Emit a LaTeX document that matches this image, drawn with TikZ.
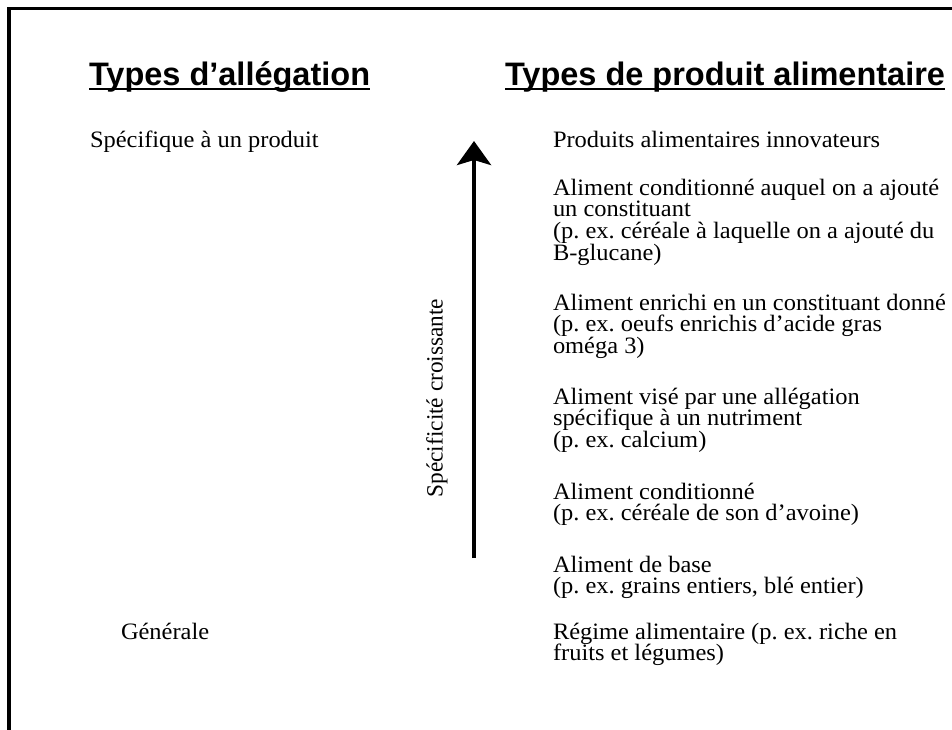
\documentclass[tikz,border=0pt]{standalone}
\usepackage{fontspec}
\setmainfont{Liberation Serif}[FakeStretch=1.04]
\newfontfamily\hdfont{Liberation Sans}
\newfontfamily\plainserif{Liberation Serif}
\usetikzlibrary{arrows.meta}
\frenchspacing
\newcommand\mystrutA{\rule{0pt}{18pt}}
\tikzset{
  every node/.style={inner sep=0pt, outer sep=0pt},
  hd/.style={font=\hdfont\bfseries\fontsize{32.5}{36}\selectfont, anchor=base west},
  txt/.style={font=\fontsize{23.5}{21.7}\selectfont, anchor=north west, align=left},
  lbl/.style={font=\fontsize{23.5}{21.7}\selectfont, anchor=base west},
  uline/.style={line width=2pt},
}
\begin{document}
\begin{tikzpicture}[x=1pt,y=-1pt]
\useasboundingbox (0,0) rectangle (952,729);
% frame
\draw[line width=3.3pt] (9,740) -- (9,8.3) -- (960,8.3);
% headers
\node[hd] (h1) at (89,85) {Types d’allégation};
\node[hd] (h2) at (505,85) {Types de produit alimentaire};
\draw[uline] ([yshift=-4pt]h1.base west) -- ([yshift=-4pt]h1.base east);
\draw[uline] ([yshift=-4pt]h2.base west) -- ([yshift=-4pt]h2.base east);
% left labels
\node[lbl] (spec) at (90,147) {Spécifique à un produit};
\node[lbl] (gen) at (121,639) {Générale};
% arrow
\coordinate (abot) at (474,558);
\coordinate (atop) at (474,141);
\draw[line width=4.3pt, -{Stealth[length=24pt, width=34pt, inset=5pt]}] (abot) -- (atop);
\node[font=\plainserif\fontsize{23.3}{21.7}\selectfont, rotate=90] (axl) at (437,398) {Spécificité croissante};
% right column
\node[txt] (p1) at (553,147-18) {\mystrutA Produits alimentaires innovateurs};
\node[txt] (p2) at (553,195-18) {\mystrutA Aliment conditionné auquel on a ajouté\\un constituant\\(p. ex. céréale à laquelle on a ajouté du\\B-glucane)};
\node[txt] (p3) at (553,310-18) {\mystrutA Aliment enrichi en un constituant donné\\(p. ex. oeufs enrichis d’acide gras\\oméga 3)};
\node[txt] (p4) at (553,404-18) {\mystrutA Aliment visé par une allégation\\spécifique à un nutriment\\(p. ex. calcium)};
\node[txt] (p5) at (553,499-18) {\mystrutA Aliment conditionné\\(p. ex. céréale de son d’avoine)};
\node[txt] (p6) at (553,572-18) {\mystrutA Aliment de base\\(p. ex. grains entiers, blé entier)};
\node[txt] (p7) at (553,639-18) {\mystrutA Régime alimentaire (p. ex. riche en\\fruits et légumes)};
\end{tikzpicture}
\end{document}
